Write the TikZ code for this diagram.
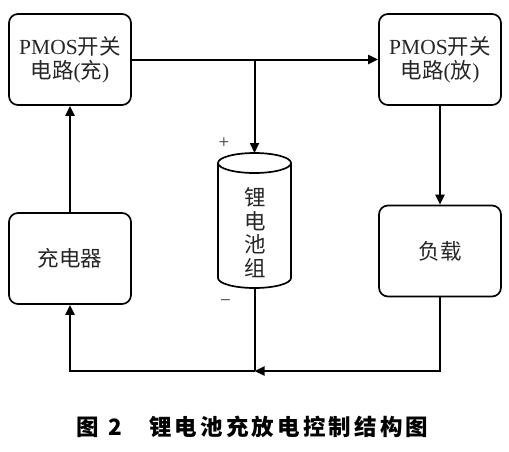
\documentclass[tikz,border=0pt]{standalone}
\usepackage{fontspec}
\setmainfont{Liberation Serif}
\newfontfamily\cjk{Noto Sans CJK SC}
\newfontfamily\cjkcap[LetterSpace=14]{Noto Sans CJK SC}
\usetikzlibrary{arrows.meta}
\begin{document}
\begin{tikzpicture}[x=1pt,y=-1pt,
  blk/.style={draw, line width=1.7pt, rounded corners=9pt, minimum width=122pt, minimum height=91pt, inner sep=0pt, align=center, font=\fontsize{21.5}{24}\selectfont, text=black!85},
  conn/.style={line width=2pt},
  arr/.style={conn, -{Triangle[length=10pt,width=9pt]}},
  sign/.style={font=\fontsize{19}{19}\selectfont, text=black!80, inner sep=0pt},
  captext/.style={anchor=west, inner sep=0pt},
]
\useasboundingbox (0,0) rectangle (509,451);
\node[blk] (pc) at (70,59.5) {PMOS{\cjk 开关}\\{\cjk 电路}({\cjk 充})};
\node[blk] (pd) at (440,59.5) {PMOS{\cjk 开关}\\{\cjk 电路}({\cjk 放})};
\node[blk, font=\cjk\fontsize{21.5}{24}\selectfont] (chg) at (70,258.5) {充电器};
\node[blk, font=\cjk\fontsize{21.5}{24}\selectfont] (ld) at (440,251) {负载};
% battery cylinder
\draw[line width=1.7pt] (254.5,163) ellipse [x radius=36.5, y radius=10];
\draw[line width=1.7pt] (218,163) -- (218,278) arc[start angle=180, end angle=0, x radius=36.5, y radius=10] -- (291,163);
\node[align=center, font=\cjk\fontsize{21.5}{23.5}\selectfont, text=black!85] (batt) at (255,232.5) {锂\\电\\池\\组};
\node[sign] (plus) at (224,143) {+};
\node[sign] (minus) at (225.5,303) {−};
\coordinate (bt) at (254.5,153);
\coordinate (bb) at (254.5,288);
\coordinate (j1) at (254.5,59.5);
\coordinate (j2) at (254.5,371);
% connectors
\draw[arr] (pc) -- (pd);
\draw[arr] (j1) -- (bt);
\draw[arr] (chg) -- (pc);
\draw[arr] (pd) -- (ld);
\draw[arr] (ld.south) |- (j2);
\draw[conn] (bb) -- (j2);
\draw[arr] (j2) -| (chg.south);
% caption
\node[captext, font=\cjk\bfseries\fontsize{22.5}{22.5}\selectfont] (fig) at (76,427) {图\hspace{10pt}2};
\node[captext, font=\cjkcap\bfseries\fontsize{22.5}{22.5}\selectfont] (title) at (149,427) {锂电池充放电控制结构图};
\end{tikzpicture}
\end{document}
